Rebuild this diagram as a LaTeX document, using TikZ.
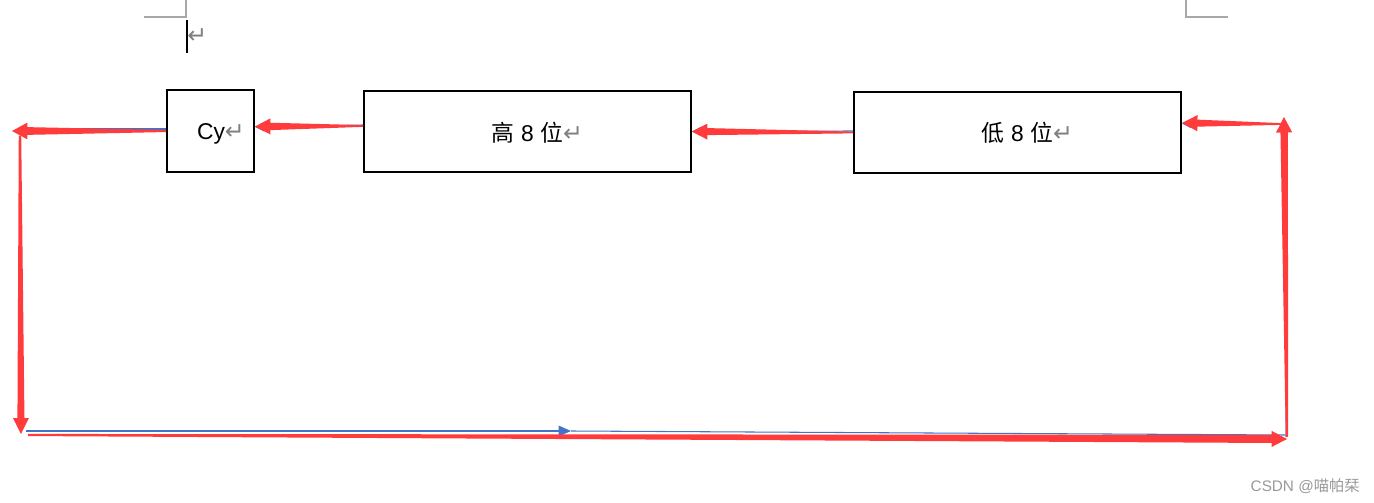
\documentclass[tikz,border=0pt]{standalone}
\usepackage{fontspec}
\setmainfont{Liberation Sans}
\newfontfamily\cjk{Noto Sans CJK SC}
\newfontfamily\dv{DejaVu Sans}
\usetikzlibrary{calc,arrows.meta}
\definecolor{arrred}{HTML}{FF3B3B}
\definecolor{lnblue}{HTML}{4472C4}
\definecolor{mkgray}{HTML}{A8A8A8}
\definecolor{wmgray}{HTML}{999999}
% tapered red arrow: #1 tail, #2 tip, #3 tail half-width, #4 shaft half-width at head, #5 head half-width, #6 head length
\newcommand\tarrow[6]{%
  \path (#2) coordinate (tA) ($(#2)!#6!(#1)$) coordinate (tB);
  \fill[arrred] ($(#1)!#3!90:(#2)$) -- ($(tB)!#4!90:(tA)$) -- ($(tB)!#5!90:(tA)$) -- (tA)
     -- ($(tB)!#5!-90:(tA)$) -- ($(tB)!#4!-90:(tA)$) -- ($(#1)!#3!-90:(#2)$) -- cycle;}
\newcommand\retmark{\rlap{\dv\color{gray}\fontsize{13.5}{15}\selectfont↵}}
\begin{document}
\begin{tikzpicture}[x=0.02cm,y=-0.02cm,
  box/.style={draw=black,line width=1.15pt,inner sep=0pt},
  lbl/.style={font=\fontsize{13}{15}\selectfont},
  ret/.style={text=gray,font=\dv\fontsize{13.5}{15}\selectfont},
  cornermark/.style={draw=mkgray,line width=0.6pt},
  blueln/.style={draw=lnblue,line width=0.6pt},
  bluetip/.style={-{Triangle[length=7pt,width=6pt]}},
  smalltip/.style={-{Triangle[length=5pt,width=5pt]}}]
\useasboundingbox (0,0) rectangle (1374,503);
% page corner marks
\coordinate (m1) at (144,17); \coordinate (m2) at (186,17); \coordinate (m3) at (186,0);
\draw[cornermark] (m1) -- (m2) -- (m3);
\coordinate (m4) at (1186,0); \coordinate (m5) at (1186,17); \coordinate (m6) at (1228,17);
\draw[cornermark] (m4) -- (m5) -- (m6);
% cursor and paragraph mark
\coordinate (c1) at (187,20); \coordinate (c2) at (187,53);
\draw[black,line width=0.6pt] (c1) -- (c2);
\node[ret,anchor=west,inner sep=0pt] (pm) at (187,36) {↵};
% boxes
\node[box,minimum width=1.74cm,minimum height=1.64cm] (cy) at (210.5,131) {};
\node[box,minimum width=6.54cm,minimum height=1.62cm] (hi) at (527.5,131.5) {};
\node[box,minimum width=6.54cm,minimum height=1.62cm] (lo) at (1017.5,132.5) {};
\node[lbl,inner sep=0pt] (cyt) at (211,134) {Cy\retmark};
\node[lbl,inner sep=0pt] (hit) at (527.5,132.5) {{\cjk 高} 8 {\cjk 位}\retmark};
\node[lbl,inner sep=0pt] (lot) at (1017.5,132.5) {{\cjk 低} 8 {\cjk 位}\retmark};
% loop coordinates
\coordinate (L1) at (12,131);
\coordinate (L2) at (20,136);
\coordinate (L3) at (21,434);
\coordinate (B1) at (28,435);
\coordinate (B2) at (1287,439);
\coordinate (R1) at (1287,437);
\coordinate (R2) at (1284,117);
\coordinate (R3) at (1281,124);
\coordinate (loin) at ($(lo.east)+(0,-9.5)$);
\coordinate (hiout) at ($(hi.west)+(0,-5.5)$);
\coordinate (cyin) at ($(cy.east)+(0,-4.5)$);
% blue thin connectors
\coordinate (b1) at (20,129); \coordinate (b2) at (21,430);
\coordinate (b3) at (26,431); \coordinate (b4) at (571,431); \coordinate (b5) at (1286,435);
\coordinate (b6) at (1286,437); \coordinate (b7) at (1285,124);
\draw[blueln] ($(cy.west)+(0,-2)$) -- (b1);
\draw[lnblue!50,line width=0.8pt] (b1) -- (b2);
\draw[blueln,bluetip] (b3) -- (b4);
\draw[blueln] (b4) -- (b5);
\draw[lnblue!70,line width=0.6pt] (b6) -- (b7);
\draw[blueln,smalltip] ($(hi.west)+(0,-6.5)$) -- ($(cy.east)+(0,-4)$);
\draw[blueln,smalltip] ($(lo.west)+(0,-1.5)$) -- ($(hi.east)+(0,0)$);
\draw[blueln,smalltip] (b7) -- ($(lo.east)+(0,-9)$);
% red tapered arrows
\tarrow{hiout}{cyin}{0.5pt}{2.1pt}{4.6pt}{8.8pt}
\tarrow{lo.west}{hi.east}{0.5pt}{2pt}{4.6pt}{8.8pt}
\tarrow{R3}{loin}{0.5pt}{2pt}{4.6pt}{8.8pt}
\tarrow{cy.west}{L1}{0.6pt}{2.2pt}{4.8pt}{8.8pt}
\tarrow{L2}{L3}{0.7pt}{2pt}{4.5pt}{9pt}
\tarrow{B1}{B2}{0.6pt}{2.3pt}{4.6pt}{8.8pt}
\tarrow{R1}{R2}{0.7pt}{2.1pt}{4.6pt}{8.8pt}
% watermark
\node[anchor=east,inner sep=0pt,text=wmgray,font=\fontsize{8.7}{10}\selectfont] (wm) at (1360,486) {CSDN @{\cjk 喵帕栞}};
\end{tikzpicture}
\end{document}
